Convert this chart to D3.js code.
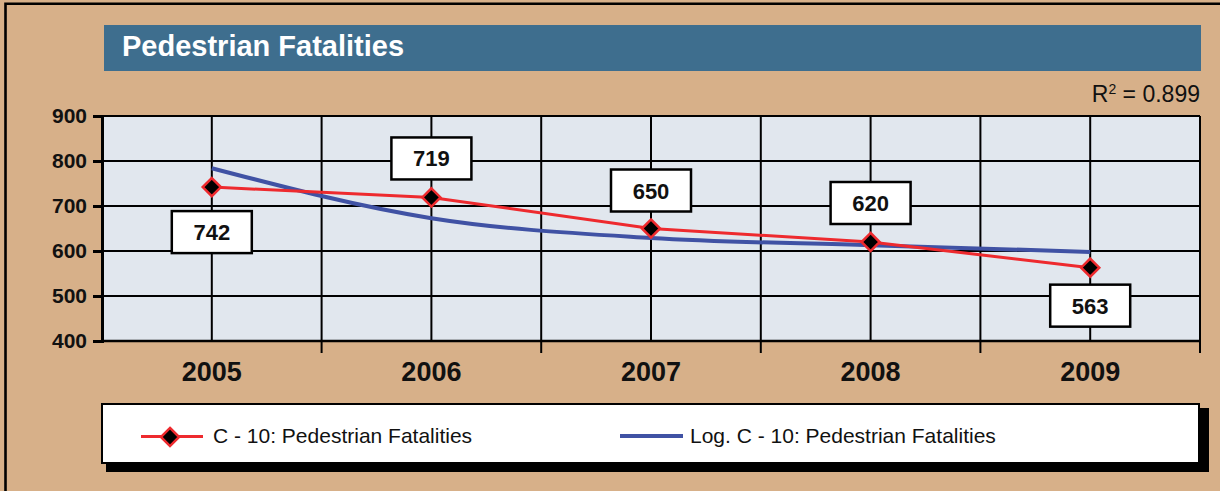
<!doctype html>
<html>
<head>
<meta charset="UTF-8">
<title>Pedestrian Fatalities</title>
<script src="https://d3js.org/d3.v7.min.js"></script>
<style>
  body { margin: 0; background: #d7b089; }
  svg { display: block; font-family: "Liberation Sans", Arial, sans-serif; }
</style>
</head>
<body>
<script>

// -------------------------------------- data

var years = ["2005", "2006", "2007", "2008", "2009"];
var fatalities = [742, 719, 650, 620, 563];
// logarithmic trend line at each year
var trend = [784, 673, 629, 613, 598];
var yTicks = [400, 500, 600, 700, 800, 900];
var rSquared = "0.899";
var seriesName = "C - 10: Pedestrian Fatalities";
var trendName = "Log. C - 10: Pedestrian Fatalities";

// -------------------------------------- colours

var back_col = "#d7b089";
var title_col = "#3e6e8e";
var plot_col = "#e1e7ee";
var red_col = "#ee2a2e";
var blue_col = "#4052a4";

// label box offsets (centre of box relative to the point)
var labelShift = [45, -39, -38, -39, 38];

var W = 1220, H = 491;
var plotLeft = 102, plotRight = 1200, plotTop = 116, plotBottom = 341;

var svg = d3.select("body").append("svg")
  .attr("width", W)
  .attr("height", H);

svg.append("rect").attr("width", W).attr("height", H).attr("fill", back_col);

// outer frame (only left and top visible)
svg.append("path")
  .attr("d", "M5.5," + H + "V3.7H" + W)
  .attr("fill", "none")
  .attr("stroke", "#000")
  .attr("stroke-width", 2.6);

// -------------------------------------- title

svg.append("rect")
  .attr("x", 104).attr("y", 25)
  .attr("width", 1097).attr("height", 46)
  .attr("fill", title_col);

svg.append("text")
  .attr("x", 122).attr("y", 56)
  .attr("fill", "#fff")
  .style("font-size", "29px")
  .style("font-weight", "bold")
  .text("Pedestrian Fatalities");

var r2 = svg.append("text")
  .attr("x", 1200).attr("y", 102)
  .attr("text-anchor", "end")
  .attr("fill", "#111")
  .style("font-size", "23px");
r2.append("tspan").text("R");
r2.append("tspan").attr("dy", -8).style("font-size", "14px").text("2");
r2.append("tspan").attr("dy", 8).text(" = " + rSquared);

// -------------------------------------- scales

var x = d3.scaleBand().domain(years).range([plotLeft, plotRight]);
var cx = function(d) { return x(d) + x.bandwidth() / 2; };
var y = d3.scaleLinear().domain([400, 900]).range([plotBottom, plotTop]);

// plot area
svg.append("rect")
  .attr("x", plotLeft).attr("y", plotTop)
  .attr("width", plotRight - plotLeft).attr("height", plotBottom - plotTop)
  .attr("fill", plot_col);

// horizontal grid
svg.selectAll("line.hgrid")
  .data(yTicks.slice(1))
  .enter().append("line")
  .attr("class", "hgrid")
  .attr("x1", plotLeft).attr("x2", plotRight)
  .attr("y1", function(d) { return y(d); })
  .attr("y2", function(d) { return y(d); })
  .attr("stroke", "#000").attr("stroke-width", 2);

// vertical grid at year centres
svg.selectAll("line.vcenter")
  .data(years)
  .enter().append("line")
  .attr("class", "vcenter")
  .attr("x1", cx).attr("x2", cx)
  .attr("y1", plotTop).attr("y2", plotBottom)
  .attr("stroke", "#000").attr("stroke-width", 2);

// vertical grid at band edges, with ticks below the axis
svg.selectAll("line.vedge")
  .data(years)
  .enter().append("line")
  .attr("class", "vedge")
  .attr("x1", function(d) { return x(d) + x.bandwidth(); })
  .attr("x2", function(d) { return x(d) + x.bandwidth(); })
  .attr("y1", plotTop).attr("y2", plotBottom + 12)
  .attr("stroke", "#000").attr("stroke-width", 2);

// y axis
var yAxis = svg.append("g")
  .attr("transform", "translate(" + plotLeft + ",0)")
  .call(d3.axisLeft(y).tickValues(yTicks).tickSize(9).tickPadding(6));
yAxis.select(".domain").attr("stroke", "#000").attr("stroke-width", 3);
yAxis.selectAll(".tick line").attr("stroke", "#000").attr("stroke-width", 3);
yAxis.selectAll(".tick text")
  .attr("fill", "#111")
  .style("font-family", "'Liberation Sans', Arial, sans-serif")
  .style("font-size", "21px")
  .style("font-weight", "bold");

// x axis line
svg.append("line")
  .attr("x1", plotLeft).attr("x2", plotRight)
  .attr("y1", plotBottom).attr("y2", plotBottom)
  .attr("stroke", "#000").attr("stroke-width", 2.5);

// x labels
svg.selectAll("text.xlab")
  .data(years)
  .enter().append("text")
  .attr("class", "xlab")
  .attr("x", cx)
  .attr("y", 381)
  .attr("text-anchor", "middle")
  .attr("fill", "#111")
  .style("font-size", "27px")
  .style("font-weight", "bold")
  .text(function(d) { return d; });

// -------------------------------------- lines

var trendLine = d3.line()
  .x(function(d, i) { return cx(years[i]); })
  .y(function(d) { return y(d); })
  .curve(d3.curveMonotoneX);

svg.append("path")
  .datum(trend)
  .attr("d", trendLine)
  .attr("fill", "none")
  .attr("stroke", blue_col)
  .attr("stroke-width", 4);

var dataLine = d3.line()
  .x(function(d, i) { return cx(years[i]); })
  .y(function(d) { return y(d); });

svg.append("path")
  .datum(fatalities)
  .attr("d", dataLine)
  .attr("fill", "none")
  .attr("stroke", red_col)
  .attr("stroke-width", 3);

var diamond = d3.symbol().type(d3.symbolDiamond2).size(210);

svg.selectAll("path.marker")
  .data(fatalities)
  .enter().append("path")
  .attr("class", "marker")
  .attr("d", diamond)
  .attr("transform", function(d, i) { return "translate(" + cx(years[i]) + "," + y(d) + ")"; })
  .attr("fill", "#000")
  .attr("stroke", red_col)
  .attr("stroke-width", 2.5);

// -------------------------------------- value labels

var labels = svg.selectAll("g.vlabel")
  .data(fatalities)
  .enter().append("g")
  .attr("class", "vlabel")
  .attr("transform", function(d, i) {
    return "translate(" + cx(years[i]) + "," + (y(d) + labelShift[i]) + ")";
  });

labels.append("rect")
  .attr("x", -40).attr("y", -21)
  .attr("width", 80).attr("height", 42)
  .attr("fill", "#fff")
  .attr("stroke", "#000")
  .attr("stroke-width", 2.5);

labels.append("text")
  .attr("y", 8)
  .attr("text-anchor", "middle")
  .attr("fill", "#111")
  .style("font-size", "22px")
  .style("font-weight", "bold")
  .text(function(d) { return d; });

// -------------------------------------- legend

svg.append("rect")
  .attr("x", 106).attr("y", 408)
  .attr("width", 1103).attr("height", 64)
  .attr("fill", "#000");

svg.append("rect")
  .attr("x", 102).attr("y", 404)
  .attr("width", 1097).attr("height", 59)
  .attr("fill", "#fff")
  .attr("stroke", "#000")
  .attr("stroke-width", 2);

svg.append("line")
  .attr("x1", 141).attr("x2", 203)
  .attr("y1", 436.5).attr("y2", 436.5)
  .attr("stroke", red_col).attr("stroke-width", 3);

svg.append("path")
  .attr("d", diamond)
  .attr("transform", "translate(170,437)")
  .attr("fill", "#000")
  .attr("stroke", red_col)
  .attr("stroke-width", 2.5);

svg.append("text")
  .attr("x", 213).attr("y", 443)
  .attr("fill", "#111")
  .style("font-size", "21px")
  .text(seriesName);

svg.append("line")
  .attr("x1", 620).attr("x2", 683)
  .attr("y1", 436).attr("y2", 436)
  .attr("stroke", blue_col).attr("stroke-width", 4);

svg.append("text")
  .attr("x", 690).attr("y", 443)
  .attr("fill", "#111")
  .style("font-size", "21px")
  .text(trendName);

</script>
</body>
</html>
